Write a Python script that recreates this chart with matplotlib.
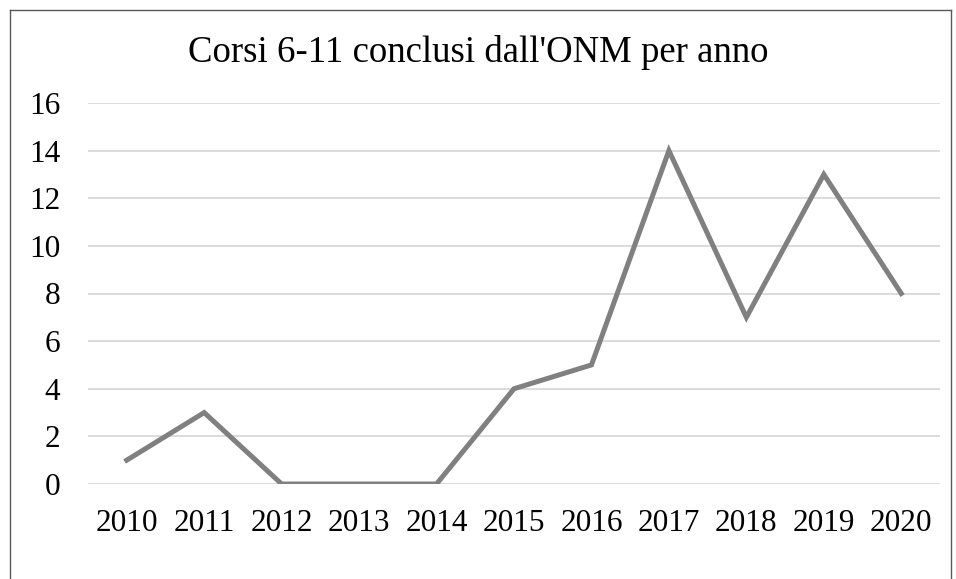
import matplotlib
matplotlib.use("Agg")
import matplotlib.pyplot as plt
from matplotlib.lines import Line2D

years = ["2010", "2011", "2012", "2013", "2014", "2015", "2016", "2017", "2018", "2019", "2020"]
corsi = [1, 3, 0, 0, 0, 4, 5, 14, 7, 13, 8]
yticks = [0, 2, 4, 6, 8, 10, 12, 14, 16]

plt.rcParams["font.family"] = ["Liberation Serif", "DejaVu Serif"]

W, H = 956, 579
fig = plt.figure(figsize=(W / 100, H / 100), dpi=100)
ax = fig.add_axes([88 / W, 1 - 484 / H, (940 - 88) / W, (484 - 103) / H])

x = range(len(years))
ax.plot(x, corsi, color="#808080", lw=3.6, solid_joinstyle="miter", zorder=3)

ax.set_xlim(-0.5, len(years) - 0.5)
ax.set_ylim(0, 16)
ax.set_yticks(yticks)
ax.set_xticks(list(x))
ax.set_xticklabels(years)
ax.grid(axis="y", color="#d9d9d9", lw=1.3)
ax.set_axisbelow(True)
for s in ax.spines.values():
    s.set_visible(False)
ax.tick_params(length=0, labelsize=22.5, colors="black")
ax.tick_params(axis="x", pad=18)
ax.tick_params(axis="y", pad=20)

fig.text(0.5, 1 - 53 / H, "Corsi 6-11 conclusi dall'ONM per anno",
         ha="center", va="center", fontsize=26.5)

# chart frame (clipped at bottom of picture)
fx0, fx1, fy1 = 9.5 / W, 950.5 / W, 1 - 9.5 / H
for xs, ys in [([fx0, fx0], [0, fy1]), ([fx0, fx1], [fy1, fy1]), ([fx1, fx1], [fy1, 0])]:
    fig.add_artist(Line2D(xs, ys, color="#595959", lw=1.0, transform=fig.transFigure))

fig.savefig("out.png", dpi=100)
